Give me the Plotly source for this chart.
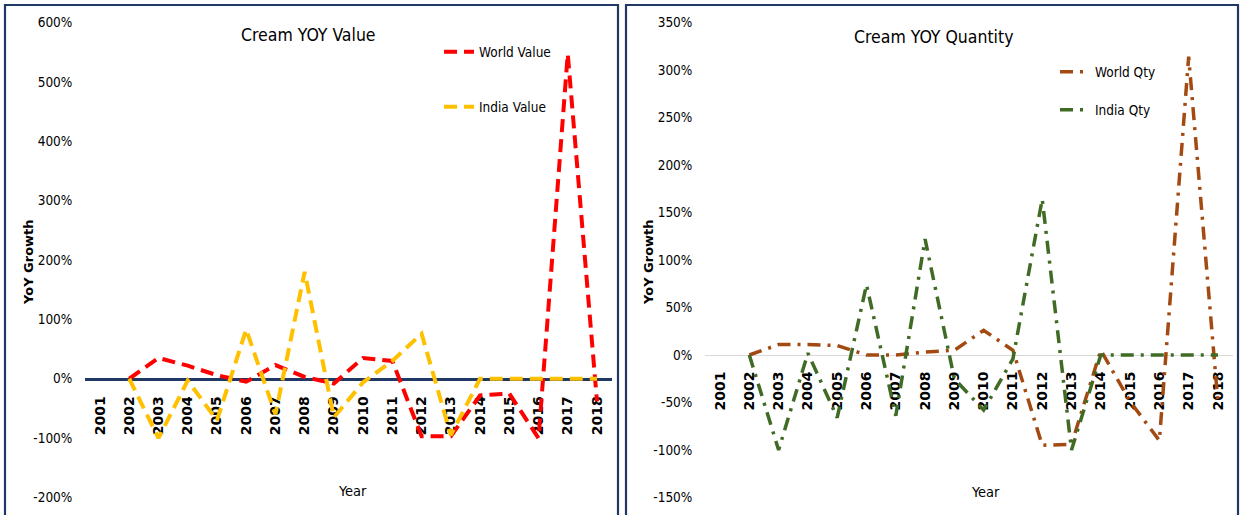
import plotly.graph_objects as go

# Data: year-on-year growth of cream trade (fractions, 1.0 = 100%)
years = [str(y) for y in range(2001, 2019)]

world_value = [None, 0.00, 0.35, 0.22, 0.06, -0.05, 0.23, 0.03, -0.08, 0.35, 0.30,
               -0.97, -0.97, -0.28, -0.25, -1.00, 5.47, -0.38]
india_value = [None, 0.00, -1.00, -0.03, -0.70, 0.83, -0.60, 1.80, -0.65, -0.06, 0.30,
               0.76, -0.95, 0.00, 0.00, 0.00, 0.00, 0.00]

world_qty = [None, 0.00, 0.11, 0.11, 0.10, 0.00, 0.00, 0.03, 0.05, 0.26, 0.05,
             -0.95, -0.94, 0.05, -0.49, -0.90, 3.14, -0.50]
india_qty = [None, 0.00, -1.00, 0.02, -0.66, 0.74, -0.64, 1.22, -0.25, -0.58, -0.04,
             1.64, -1.00, 0.00, 0.00, 0.00, 0.00, 0.00]

value_ticks = [-2, -1, 0, 1, 2, 3, 4, 5, 6]
qty_ticks = [-1.5, -1.0, -0.5, 0, 0.5, 1.0, 1.5, 2.0, 2.5, 3.0, 3.5]

W, H = 1240, 515
NAVY = "#1F3864"
COND = "DejaVu Sans Condensed, DejaVu Sans, sans-serif"
BOLD_SANS = "DejaVu Sans, Verdana, sans-serif"


def px_x(p):
    return p / W


def px_y(p):
    return 1 - p / H


def pct(v):
    return f"{v:.0%}"


fig = go.Figure()

fig.add_trace(go.Scatter(x=years, y=world_value, name="World Value", mode="lines",
                         line=dict(color="#FF0000", width=4, dash="13px,7px"),
                         xaxis="x", yaxis="y", legend="legend"))
fig.add_trace(go.Scatter(x=years, y=india_value, name="India Value", mode="lines",
                         line=dict(color="#FFC000", width=4, dash="13px,7px"),
                         xaxis="x", yaxis="y", legend="legend2"))
fig.add_trace(go.Scatter(x=years, y=world_qty, name="World Qty", mode="lines",
                         line=dict(color="#A24A12", width=3.5, dash="13px,7px,3px,7px"),
                         xaxis="x2", yaxis="y2", legend="legend3"))
fig.add_trace(go.Scatter(x=years, y=india_qty, name="India Qty", mode="lines",
                         line=dict(color="#3F6B24", width=3.5, dash="13px,7px,3px,7px"),
                         xaxis="x2", yaxis="y2", legend="legend4"))

y_dom = [px_y(497.5), px_y(22.5)]

common_x = dict(type="category", categoryorder="array", categoryarray=years,
                range=[-0.5, 17.5], tickangle=-90, ticks="", showgrid=False,
                zeroline=False, anchor="free", layer="below traces", automargin=False,
                tickfont=dict(family=BOLD_SANS, size=14, color="#000000", weight="bold"),
                ticklabelstandoff=10)
common_y = dict(showgrid=False, zeroline=False, showline=False, ticks="",
                ticklabelstandoff=12, automargin=False,
                tickfont=dict(family=COND, size=13.5, color="#000000"))

fig.update_layout(
    template="none",
    width=W, height=H,
    margin=dict(l=0, r=0, t=0, b=0, pad=0),
    paper_bgcolor="white", plot_bgcolor="white",
    xaxis=dict(common_x, domain=[px_x(85.4), px_x(611.6)], position=px_y(378.75),
               showline=True, linecolor=NAVY, linewidth=3),
    yaxis=dict(common_y, domain=y_dom, range=[-2, 6], anchor="x",
               tickvals=value_ticks, ticktext=[pct(v) for v in value_ticks]),
    xaxis2=dict(common_x, domain=[px_x(705.4), px_x(1232.6)], position=px_y(355),
                showline=True, linecolor="#D9D9D9", linewidth=1),
    yaxis2=dict(common_y, domain=y_dom, range=[-1.5, 3.5], anchor="x2",
                tickvals=qty_ticks, ticktext=[pct(v) for v in qty_ticks]),
    showlegend=True,
)

legend_font = dict(family=COND, size=13.5, color="#000000")
for key, (lx, ly) in {"legend": (439, 52), "legend2": (439, 107),
                      "legend3": (1055, 72), "legend4": (1055, 110)}.items():
    fig.layout[key] = dict(x=px_x(lx), y=px_y(ly), xanchor="left", yanchor="middle",
                           bgcolor="rgba(0,0,0,0)", font=legend_font, borderwidth=0)

annotations = [
    dict(text="Cream YOY Value", x=px_x(308), y=px_y(35), size=17.5),
    dict(text="Cream YOY Quantity", x=px_x(933), y=px_y(37), size=17.5),
    dict(text="Year", x=px_x(352), y=px_y(491), size=14.5),
    dict(text="Year", x=px_x(985), y=px_y(492), size=14.5),
]
for a in annotations:
    fig.add_annotation(text=a["text"], x=a["x"], y=a["y"], xref="paper", yref="paper",
                       showarrow=False, xanchor="center", yanchor="middle",
                       font=dict(family=COND, size=a["size"], color="#000000"))

for ax_x in (28, 648):
    fig.add_annotation(text="<b>YoY Growth</b>", x=px_x(ax_x), y=px_y(262), xref="paper",
                       yref="paper", showarrow=False, textangle=-90,
                       xanchor="center", yanchor="middle",
                       font=dict(family=BOLD_SANS, size=13, color="#000000"))

# Panel frames (open at the bottom edge of the page)
for left, right in ((5, 618), (626, 1238)):
    fig.add_shape(type="path", xref="paper", yref="paper",
                  path=f"M {px_x(left)},{-0.05} L {px_x(left)},{px_y(5)} "
                       f"L {px_x(right)},{px_y(5)} L {px_x(right)},{-0.05}",
                  line=dict(color=NAVY, width=2.2))

fig.write_html("out.html")
